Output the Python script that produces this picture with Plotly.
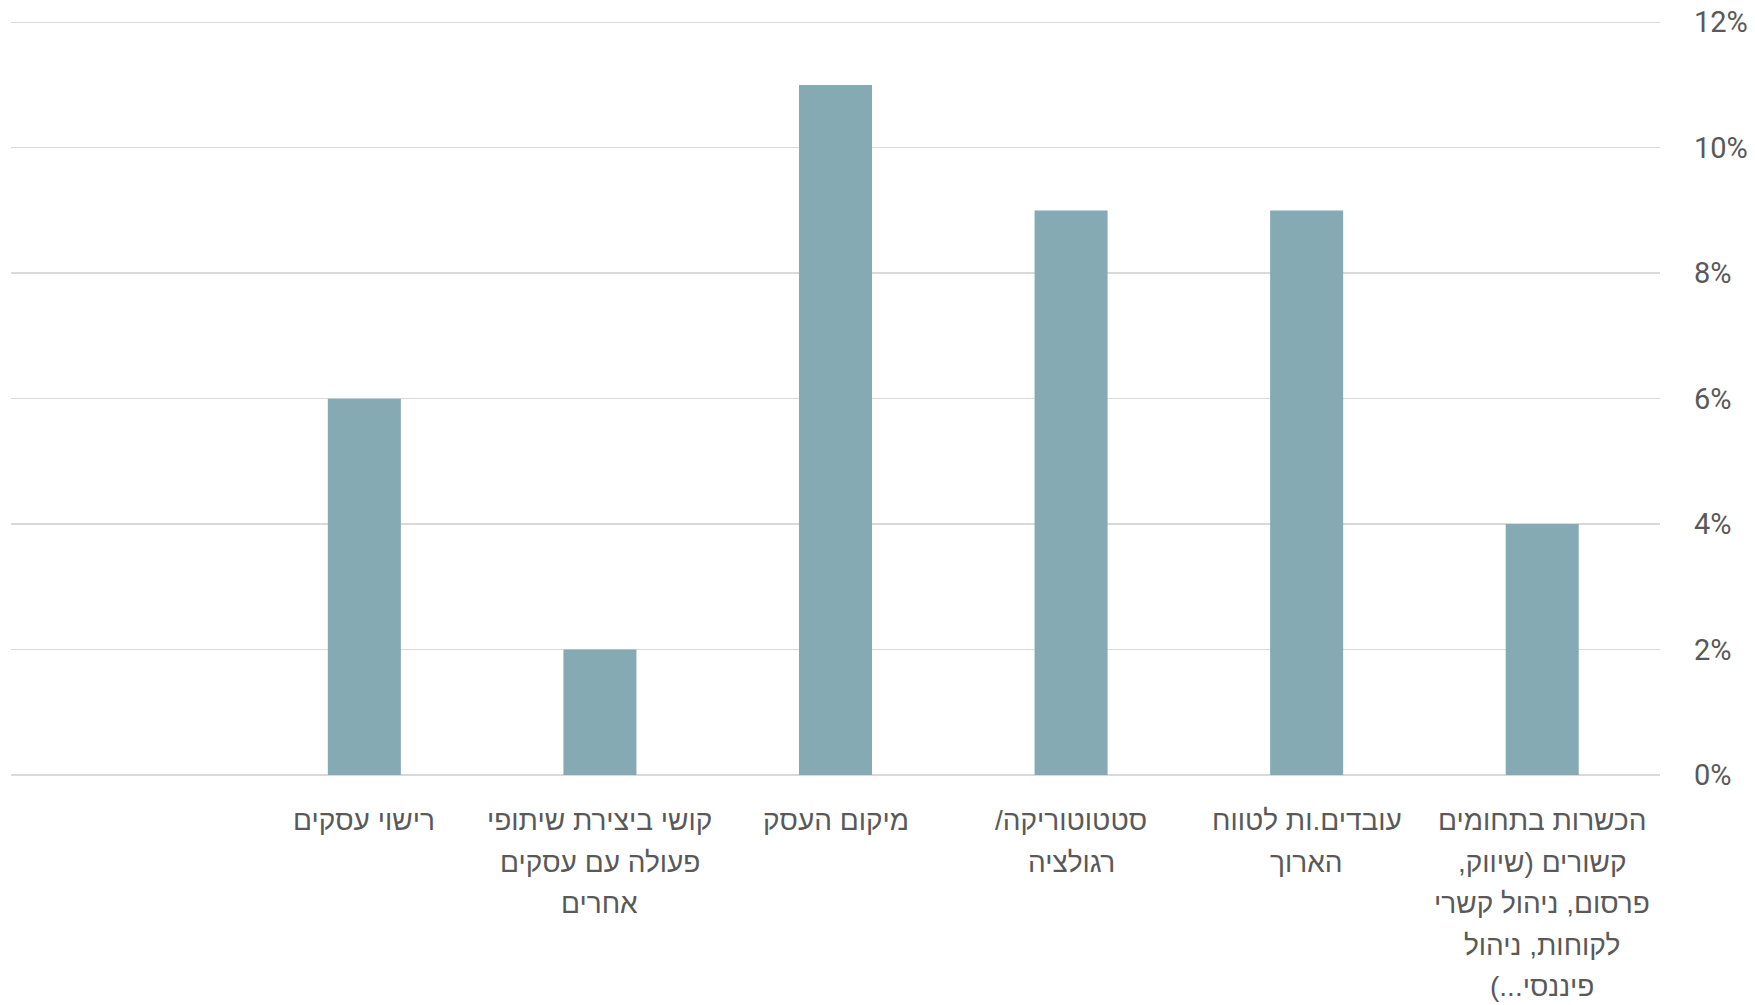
import plotly.graph_objects as go

# Category labels (right-to-left order on the chart); "\n" marks line breaks as in the original
categories = [
    "הכשרות בתחומים\nקשורים (שיווק,\nפרסום, ניהול קשרי\nלקוחות, ניהול\nפיננסי...)",
    "עובדים.ות לטווח\nהארוך",
    "סטטוטוריקה/\nרגולציה",
    "מיקום העסק",
    "קושי ביצירת שיתופי\nפעולה עם עסקים\nאחרים",
    "רישוי עסקים",
    "",
]
values = [4, 9, 9, 11, 2, 6, None]
y_ticks = [0, 2, 4, 6, 8, 10, 12]

positions = list(range(len(categories)))

RLM = "\u200f"
text_color = "#595959"
hebrew_font = "Liberation Sans, Arial, sans-serif"
number_font = "Roboto, Liberation Sans, sans-serif"

fig = go.Figure(
    go.Bar(
        x=positions,
        y=values,
        marker=dict(color="#85aab4", line=dict(width=0)),
        width=0.31,
        hoverinfo="skip",
    )
)

# category labels, one annotation per text line, anchored to the category positions
first_offset = 45.5
line_step = 41.5
for pos, label in zip(positions, categories):
    if not label:
        continue
    for i, line in enumerate(label.split("\n")):
        fig.add_annotation(
            x=pos,
            xref="x",
            y=0,
            yref="paper",
            text=RLM + line + RLM,
            showarrow=False,
            xanchor="center",
            yanchor="middle",
            yshift=-(first_offset + i * line_step),
            font=dict(family=hebrew_font, size=28, color=text_color),
        )

fig.update_layout(
    width=1755,
    height=1005,
    margin=dict(l=11, r=95, t=21, b=230),
    paper_bgcolor="white",
    plot_bgcolor="white",
    showlegend=False,
    font=dict(family=hebrew_font, size=28, color=text_color),
    xaxis=dict(
        tickmode="array",
        tickvals=positions,
        showticklabels=False,
        range=[len(categories) - 0.5, -0.5],
        showgrid=False,
        zeroline=False,
        showline=False,
        ticks="",
        automargin=False,
    ),
    yaxis=dict(
        side="right",
        range=[0, 12.02],
        tickmode="array",
        tickvals=y_ticks,
        ticktext=[f"{v}%" for v in y_ticks],
        showgrid=True,
        gridcolor="#d9d9d9",
        gridwidth=1.5,
        zeroline=True,
        zerolinecolor="#d9d9d9",
        zerolinewidth=2,
        showline=False,
        ticks="",
        ticklabelstandoff=33,
        automargin=False,
        tickfont=dict(size=29, color=text_color, family=number_font),
    ),
)

fig.write_html(
    "out.html",
    config={"displayModeBar": False, "staticPlot": True},
    post_script="document.body.style.margin='0';document.body.style.overflow='hidden';",
)
